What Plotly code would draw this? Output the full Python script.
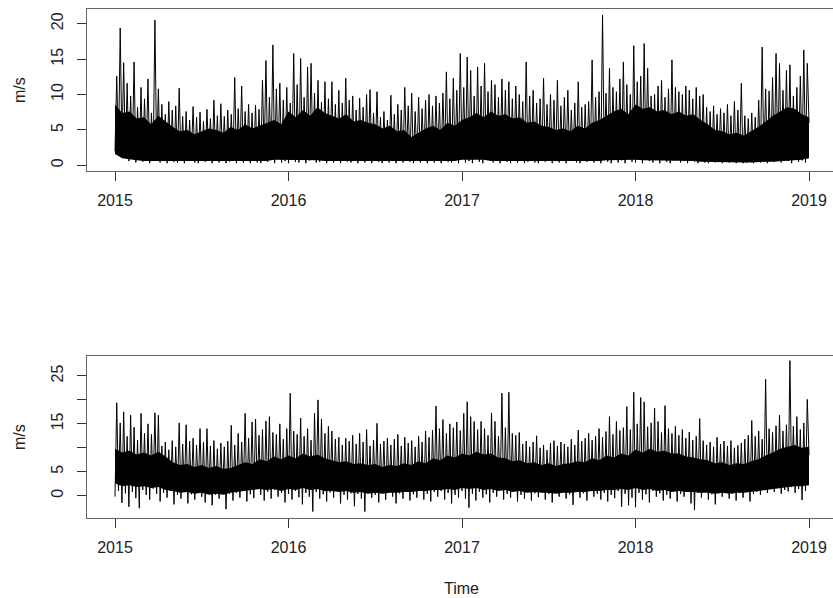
import numpy as np
import plotly.graph_objects as go

# ---------------- data ----------------
years = [2015, 2016, 2017, 2018, 2019]
year_labels = ["2015", "2016", "2017", "2018", "2019"]

# upper panel: spike tops (one per ~week) and troughs, m/s
top_highs = [
    12.6, 19.4, 14.5, 11.6, 9.8, 14.6, 8.2, 11.0, 9.4, 12.2,
    7.4, 20.5, 10.8, 8.6, 7.2, 9.0, 7.8, 8.4, 10.9, 6.9,
    7.6, 6.4, 8.3, 6.8, 7.5, 6.2, 7.9, 6.6, 9.2, 7.0,
    8.7, 6.9, 7.8, 7.2, 12.4, 8.0, 11.2, 7.6, 8.6, 7.4,
    8.5, 7.9, 12.0, 14.8, 9.6, 17.0, 10.8, 11.6, 9.2, 11.0,
    8.8, 15.8, 11.4, 15.1, 9.6, 13.9, 14.4, 10.2, 12.0, 8.9,
    11.8, 9.4, 11.8, 8.6, 10.6, 8.8, 12.3, 9.2, 9.8, 7.8,
    9.5, 8.2, 10.0, 10.7, 7.4, 10.4, 6.8, 7.6, 6.4, 9.9,
    7.2, 8.6, 7.8, 11.0, 8.4, 10.2, 7.6, 9.6, 8.0, 9.2,
    10.0, 8.4, 9.8, 8.8, 10.2, 13.2, 9.4, 12.3, 10.6, 15.8,
    11.0, 15.3, 13.4, 9.8, 13.9, 11.2, 14.4, 10.4, 12.0, 11.4,
    9.6, 12.2, 10.6, 11.8, 9.4, 11.2, 10.0, 9.0, 14.6, 9.8,
    10.6, 8.8, 9.4, 12.3, 8.6, 10.0, 9.2, 12.0, 8.4, 9.6,
    10.6, 7.8, 8.8, 11.8, 8.2, 8.6, 9.0, 14.9, 9.6, 10.4,
    21.2, 10.2, 13.7, 11.0, 10.4, 12.2, 14.6, 11.4, 10.0, 16.9,
    11.8, 12.6, 17.2, 13.7, 9.8, 10.0, 11.2, 12.0, 9.6, 10.8,
    14.9, 11.0, 10.4, 10.0, 11.2, 10.6, 9.4, 11.0, 9.8, 10.0,
    8.2, 7.6, 8.4, 7.2, 8.0, 7.4, 8.6, 7.0, 9.0, 7.8,
    11.6, 7.0, 6.6, 7.4, 6.8, 9.2, 16.7, 10.8, 10.5, 12.4,
    15.8, 14.4, 10.6, 13.4, 14.2, 9.8, 11.0, 12.6, 16.3, 14.4,
]
top_lows = [
    2.0, 1.6, 2.4, 1.2, 0.6, 1.8, 0.4, 1.0, 0.5, 1.4,
    0.3, 0.8, 1.6, 0.4, 0.6, 0.3, 1.2, 0.5, 0.4, 0.9,
    0.3, 0.6, 1.1, 0.4, 0.3, 0.8, 0.5, 1.4, 0.3, 0.6,
    0.4, 1.0, 0.3, 0.5, 0.8, 0.3, 1.2, 0.4, 0.6, 0.3,
    0.9, 0.4, 0.3, 1.5, 0.5, 0.8, 0.3, 1.0, 0.4, 0.6,
    0.3, 1.3, 0.5, 0.4, 0.9, 0.3, 0.7, 1.6, 0.4, 0.5,
    0.8, 0.3, 1.1, 0.4, 0.6, 0.3, 1.4, 0.5, 0.4, 0.9,
    0.3, 0.6, 0.4, 1.2, 0.3, 0.8, 0.5, 0.3, 1.0, 0.4,
    0.6, 0.3, 0.9, 0.4, 1.3, 0.5, 0.3, 0.7, 0.4, 1.1,
    0.3, 0.6, 0.4, 0.9, 0.3, 1.5, 0.5, 0.4, 0.8, 0.3,
    1.2, 0.4, 0.6, 0.3, 1.0, 0.5, 0.3, 0.8, 1.4, 0.4,
    0.6, 0.3, 0.9, 0.5, 0.3, 1.1, 0.4, 0.7, 0.3, 0.5,
    1.0, 0.4, 0.3, 0.8, 0.5, 1.3, 0.3, 0.6, 0.4, 0.9,
    0.3, 0.7, 1.2, 0.4, 0.3, 0.8, 0.5, 1.5, 0.4, 0.6,
    0.3, 1.0, 0.5, 0.3, 1.6, 0.4, 0.7, 0.3, 1.1, 0.5,
    0.4, 0.9, 0.3, 1.3, 0.6, 0.4, 0.8, 0.3, 1.2, 0.5,
    0.3, 0.7, 1.0, 0.4, 0.6, 0.3, 0.9, 0.5, 0.3, 1.1,
    0.4, 0.3, 0.6, 0.4, 0.8, 0.3, 0.5, 0.4, 0.7, 0.3,
    0.5, 0.3, 0.4, 0.6, 0.3, 0.5, 0.4, 0.9, 0.3, 1.2,
    0.5, 0.8, 0.4, 1.4, 0.6, 0.3, 1.0, 0.5, 0.7, 0.4,
    6.0,
]
# upper panel: dense semi-monthly band (upper and lower edge of the solid core)
top_core_hi = [
    8.6, 7.4, 7.6, 6.6, 6.8, 5.8, 7.0, 6.2, 5.4, 4.8,
    5.0, 4.4, 4.8, 5.2, 5.0, 4.6, 5.4, 5.0, 5.8, 5.2,
    5.6, 6.0, 6.4, 5.8, 7.6, 6.8, 7.8, 7.0, 8.2, 7.4,
    7.0, 6.6, 7.2, 6.2, 6.4, 6.0, 5.8, 5.2, 5.6, 4.8,
    5.0, 4.0, 4.6, 5.2, 5.6, 5.0, 6.0, 5.6, 6.4, 6.8,
    7.4, 6.8, 7.6, 7.0, 7.2, 6.6, 6.8, 6.0, 6.2, 5.6,
    5.4, 5.0, 5.2, 4.8, 5.6, 5.2, 6.0, 6.4, 7.0, 7.6,
    8.0, 7.2, 8.6, 8.0, 8.2, 7.6, 7.8, 7.2, 7.6, 7.0,
    7.2, 6.4, 5.8, 5.0, 4.8, 4.4, 4.6, 4.2, 4.8, 5.4,
    6.2, 7.0, 7.6, 8.2, 8.0, 7.2, 6.8,
]
top_core_lo = [
    1.6, 1.0, 0.8, 0.7, 0.6, 0.6, 0.6, 0.5, 0.5, 0.5,
    0.5, 0.5, 0.5, 0.5, 0.5, 0.5, 0.6, 0.6, 0.5, 0.5,
    0.6, 0.6, 0.8, 0.8, 0.8, 0.8, 0.8, 0.7, 0.7, 0.6,
    0.6, 0.6, 0.6, 0.5, 0.5, 0.5, 0.5, 0.5, 0.6, 0.5,
    0.5, 0.5, 0.5, 0.5, 0.6, 0.6, 0.6, 0.6, 0.8, 0.8,
    0.8, 0.8, 0.6, 0.6, 0.6, 0.6, 0.5, 0.5, 0.5, 0.5,
    0.5, 0.5, 0.5, 0.5, 0.5, 0.5, 0.6, 0.6, 0.7, 0.7,
    0.8, 0.8, 0.8, 0.7, 0.7, 0.6, 0.6, 0.6, 0.6, 0.6,
    0.6, 0.5, 0.5, 0.5, 0.4, 0.4, 0.4, 0.4, 0.4, 0.4,
    0.5, 0.5, 0.6, 0.6, 0.7, 0.8, 1.0,
]

# lower panel
bot_highs = [
    19.4, 15.2, 17.5, 12.4, 16.8, 14.3, 11.6, 17.2, 13.0, 15.0,
    12.8, 17.3, 16.8, 10.4, 11.2, 9.6, 11.5, 10.2, 15.2, 10.8,
    14.8, 11.4, 12.0, 10.6, 14.0, 11.2, 14.0, 10.4, 11.5, 9.8,
    11.0, 10.2, 11.4, 14.7, 10.6, 13.0, 11.2, 17.2, 12.0, 15.4,
    16.0, 12.6, 13.8, 15.6, 16.5, 13.2, 12.8, 15.0, 11.8, 14.0,
    21.4, 13.5, 12.8, 16.2, 12.4, 14.0, 11.6, 17.2, 20.0, 16.0,
    13.0, 14.5, 13.5, 11.8, 12.2, 10.6, 12.0, 11.4, 12.6, 10.8,
    13.0, 11.2, 13.8, 10.4, 11.6, 15.1, 10.8, 11.4, 12.0, 10.6,
    11.8, 12.8, 10.4, 12.2, 11.0, 11.5, 10.2, 12.4, 11.2, 13.5,
    12.2, 13.7, 18.7, 14.0, 15.9, 13.0, 15.0, 14.2, 15.4, 13.6,
    17.2, 19.6, 16.5, 15.5, 13.8, 15.5, 14.0, 12.6, 17.3, 15.5,
    12.4, 21.4, 14.2, 21.6, 13.0, 12.6, 13.2, 10.8, 11.4, 10.2,
    11.2, 12.5, 10.0, 10.6, 9.5, 11.0, 11.5, 10.4, 11.2, 10.8,
    10.2, 11.8, 10.6, 13.7, 11.4, 12.0, 13.0, 11.6, 12.4, 14.0,
    12.2, 13.4, 16.5, 12.8, 15.5, 13.6, 14.2, 18.6, 13.8, 21.6,
    15.0, 20.5, 19.6, 14.4, 15.2, 18.3, 15.5, 13.2, 18.8, 14.0,
    13.0, 14.5, 12.6, 13.8, 12.0, 13.3, 11.6, 12.4, 16.1, 11.5,
    10.6, 11.2, 10.2, 12.2, 10.8, 11.4, 10.4, 11.5, 10.0, 10.5,
    11.0, 11.8, 12.6, 15.7, 12.4, 13.5, 11.8, 24.3, 14.0, 13.2,
    14.6, 16.8, 13.5, 14.8, 28.2, 14.5, 16.5, 13.8, 15.2, 20.1,
]
bot_lows = [
    -0.2, 1.0, -1.5, 0.5, -2.3, 0.8, -0.5, -2.6, 1.2, 0.2,
    -0.8, 1.5, 0.4, -1.2, 0.6, -0.4, 1.0, -1.8, 0.2, -0.6,
    0.8, -1.6, 0.3, -0.8, 1.2, -0.2, -1.4, 0.5, -2.0, 0.2,
    -0.6, 0.9, -2.8, 0.4, -1.0, 0.6, -0.4, 1.1, -1.2, 0.3,
    -0.5, 1.4, 0.2, -1.0, 0.8, -0.6, 1.2, -0.2, 0.6, -1.4,
    0.4, -0.8, 1.0, -0.3, -1.8, 0.6, -0.2, -3.3, 0.8, -0.6,
    0.3, -1.2, 0.7, -0.4, 1.0, -1.6, 0.2, -0.8, 0.5, -2.2,
    0.4, -0.6, -3.3, 0.8, -0.4, 0.2, -1.4, 0.6, -0.8, 1.0,
    -0.2, -1.6, 0.5, -0.6, 0.9, -1.0, 0.3, -0.4, 1.2, -0.8,
    0.4, -1.2, 0.8, -0.2, 1.0, -0.8, 0.6, -1.6, 0.2, -0.4,
    1.0, -0.6, -2.5, 0.4, -1.0, 0.8, -0.4, 0.3, -1.4, 0.6,
    -0.2, 1.2, -0.8, 0.4, -0.4, 1.0, -1.2, 0.2, -0.6, 0.8,
    -1.0, 0.5, -0.3, 1.1, -0.8, 0.4, -1.4, 0.6, -0.2, 0.9,
    -0.6, 0.3, -1.9, 0.8, -0.4, 0.5, -1.0, 1.2, -0.2, 0.4,
    -0.8, 0.6, -1.2, 0.2, -0.5, 1.0, -2.3, 0.4, -2.0, -0.4,
    -2.4, 0.6, -0.8, 0.3, -1.4, 1.0, -0.2, 0.5, -1.0, 0.2,
    -0.6, 1.0, -1.2, 0.4, -0.2, 0.8, -1.6, -3.0, 0.6, -0.4,
    0.8, -0.8, 0.3, -1.8, 0.5, -0.2, 1.0, -0.6, 0.4, -1.0,
    0.6, -0.4, 0.9, -1.2, 0.4, 0.8, 0.2, 1.2, 0.6, 1.4,
    0.8, 1.6, 0.4, 1.2, 0.9, 1.8, 0.6, 1.4, -0.9, 1.0,
    8.5,
]
bot_core_hi = [
    9.8, 9.0, 9.4, 8.6, 9.0, 8.4, 9.2, 8.2, 7.0, 6.4,
    6.6, 6.0, 6.4, 5.8, 6.2, 5.6, 5.8, 6.4, 7.0, 6.6,
    7.6, 7.2, 8.2, 7.6, 8.4, 7.8, 8.8, 8.2, 8.6, 7.8,
    7.4, 7.0, 7.2, 6.6, 6.8, 6.4, 6.6, 6.0, 6.4, 6.2,
    6.8, 6.4, 7.2, 6.8, 7.8, 7.4, 8.4, 8.0, 8.8, 8.4,
    9.2, 8.6, 8.8, 8.0, 7.8, 7.2, 7.4, 6.8, 7.0, 6.4,
    6.8, 6.2, 6.6, 6.8, 7.2, 7.0, 7.8, 7.4, 8.4, 8.0,
    8.8, 8.4, 9.6, 9.0, 9.8, 9.2, 9.4, 8.8, 8.8, 8.2,
    8.0, 7.6, 7.4, 6.8, 7.0, 6.4, 6.8, 6.6, 7.2, 7.6,
    8.4, 9.0, 9.8, 10.2, 10.6, 10.0, 10.2,
]
bot_core_lo = [
    2.6, 2.0, 2.2, 1.8, 2.0, 1.6, 1.8, 1.2, 1.0, 0.6,
    0.8, 0.4, 0.6, 0.2, 0.4, 0.2, 0.6, 0.8, 1.0, 1.2,
    1.4, 1.2, 1.4, 1.0, 1.4, 1.2, 1.6, 1.2, 1.4, 1.0,
    1.0, 0.8, 1.0, 0.6, 0.8, 0.4, 0.6, 0.4, 0.6, 0.6,
    0.8, 0.8, 1.0, 1.0, 1.2, 1.2, 1.4, 1.2, 1.6, 1.4,
    1.6, 1.2, 1.4, 1.0, 1.2, 0.8, 1.0, 0.6, 0.8, 0.6,
    0.6, 0.4, 0.6, 0.6, 0.8, 0.8, 1.0, 1.0, 1.2, 1.2,
    1.4, 1.2, 1.6, 1.2, 1.4, 1.0, 1.2, 0.8, 1.0, 0.8,
    0.8, 0.6, 0.6, 0.4, 0.6, 0.4, 0.6, 0.6, 0.8, 1.0,
    1.2, 1.4, 1.6, 1.8, 2.0, 2.0, 2.2,
]

# ---------------- build traces ----------------
def zigzag(highs, lows, start=2015.0, end=2019.0):
    n = len(highs)
    step = (end - start) / n
    xs, ys = [], []
    for i in range(n):
        xs += [start + i * step, start + (i + 0.5) * step]
        ys += [lows[i], highs[i]]
    xs.append(end)
    ys.append(lows[n])
    return xs, ys

def band(hi, lo, start=2015.0, end=2019.0):
    n = len(hi)
    t = list(np.linspace(start, end, n))
    return t + t[::-1], list(hi) + list(lo)[::-1]

fig = go.Figure()
for hi, lo, chi, clo, xa, ya in [
    (top_highs, top_lows, top_core_hi, top_core_lo, "x", "y"),
    (bot_highs, bot_lows, bot_core_hi, bot_core_lo, "x2", "y2"),
]:
    bx, by = band(chi, clo)
    fig.add_trace(go.Scatter(x=bx, y=by, fill="toself", fillcolor="black",
                             line=dict(width=0), mode="lines",
                             xaxis=xa, yaxis=ya, hoverinfo="skip",
                             showlegend=False))
    zx, zy = zigzag(hi, lo)
    fig.add_trace(go.Scatter(x=zx, y=zy, mode="lines",
                             line=dict(color="black", width=1.0),
                             xaxis=xa, yaxis=ya, showlegend=False))

W, H = 833, 598
font = dict(family="Liberation Sans, Arial, sans-serif", size=16, color="#222")
xrange_ = [2015 - 28 / 173.5, 2015 + (833 - 115) / 173.5]

xcommon = dict(range=xrange_, tickmode="array", tickvals=years,
               ticktext=year_labels, ticks="outside", ticklen=9,
               tickcolor="#333", tickwidth=1, showgrid=False, zeroline=False,
               showline=True, linecolor="#666", linewidth=1, mirror=True,
               ticklabelstandoff=6, tickfont=font)
ycommon = dict(ticks="outside", ticklen=9, tickcolor="#333", tickwidth=1,
               showgrid=False, zeroline=False, showline=True,
               linecolor="#666", linewidth=1, mirror=False,
               tickangle=-90, tickfont=font, ticklabelstandoff=8)

fig.update_layout(
    width=W, height=H,
    margin=dict(l=0, r=0, t=0, b=0),
    paper_bgcolor="white", plot_bgcolor="white",
    font=font,
    xaxis=dict(domain=[87 / W, 1.0], anchor="y", **xcommon),
    yaxis=dict(domain=[1 - 171 / H, 1 - 9 / H], anchor="x",
               range=[-0.805, 22.08], tickvals=[0, 5, 10, 15, 20],
               ticktext=["0", "5", "10", "15", "20"], **ycommon),
    xaxis2=dict(domain=[87 / W, 1.0], anchor="y2", **xcommon),
    yaxis2=dict(domain=[1 - 517.7 / H, 1 - 355.7 / H], anchor="x2",
                range=[-4.59, 29.23], tickvals=[0, 5, 10, 15, 20, 25],
                ticktext=["0", "5", "", "15", "", "25"], **ycommon),
    annotations=[
        dict(text="m/s", textangle=-90, x=19 / W, y=1 - 90 / H,
             xanchor="center", yanchor="middle",
             xref="paper", yref="paper", showarrow=False, font=font),
        dict(text="m/s", textangle=-90, x=19 / W, y=1 - 437 / H,
             xanchor="center", yanchor="middle",
             xref="paper", yref="paper", showarrow=False, font=font),
        dict(text="Time", x=461 / W, y=1 - 588 / H, xanchor="center",
             yanchor="middle", xref="paper",
             yref="paper", showarrow=False, font=font),
    ],
)

fig.write_html("out.html")
